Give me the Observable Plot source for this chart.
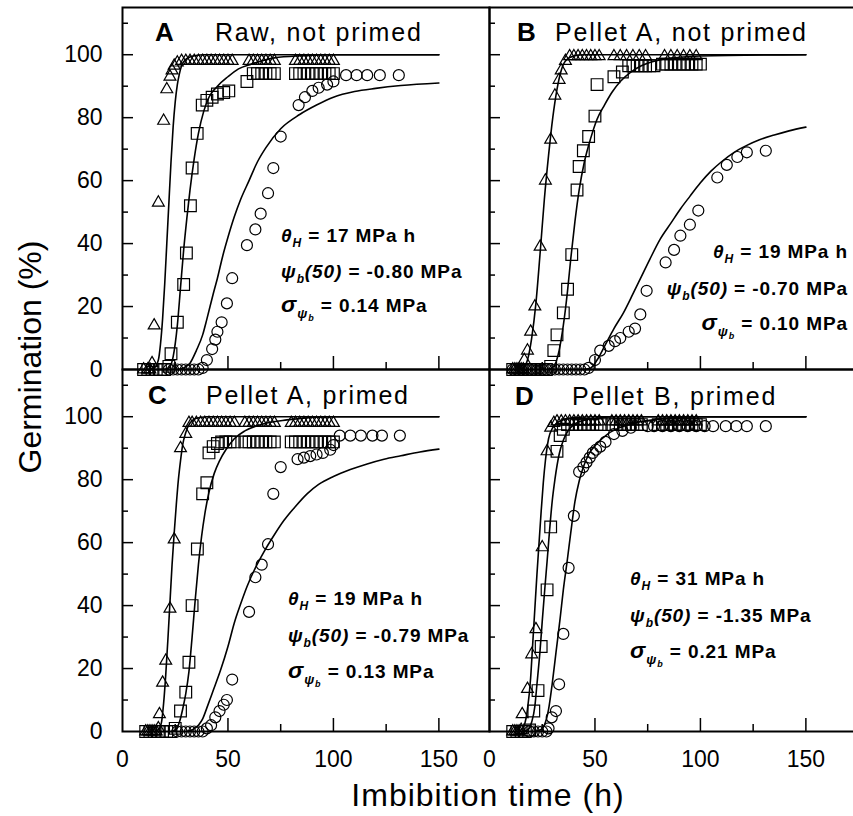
<!DOCTYPE html>
<html><head><meta charset="utf-8">
<script src="https://cdn.jsdelivr.net/npm/d3@7"></script>
<script src="https://cdn.jsdelivr.net/npm/@observablehq/plot@0.6"></script>
<style>
html,body{margin:0;padding:0;background:#fff;}
#fig{position:relative;width:853px;height:816px;overflow:hidden;background:#fff;}
#fig svg{position:absolute;overflow:visible;background:transparent;}
</style></head><body><div id="fig"></div>
<script>
// ---------- data ----------
const panelKeys = ["A", "B", "C", "D"];
const panelTitles = ["Raw, not primed", "Pellet A, not primed", "Pellet A, primed", "Pellet B, primed"];
const thetaH = ["17", "19", "19", "31"];
const psiB50 = ["-0.80", "-0.70", "-0.79", "-1.35"];
const sigmaPsiB = ["0.14", "0.10", "0.13", "0.21"];
const yTickLabels = [0, 20, 40, 60, 80, 100];
const yMinorTicks = [10, 30, 50, 70, 90, 110];
const xTickLabels = [0, 50, 100, 150];
const xMinorTicks = [25, 75, 125];
const xAxisTitle = "Imbibition time (h)";
const yAxisTitle = "Germination (%)";

// Panel A
const triA = [[10,0],[12,0],[13,0],[14,2],[15,14],[17,53],[19.5,79],[21,89],[22.5,93],[23.5,95],[24.5,96.5],[26,97.5],[28,98],[30,98],[32,98],[34,98],[36,98],[38,98],[40,98],[42,98],[44,98],[46,98],[48,98],[50,98],[52,98],[60,98],[62,98],[64,98],[66,98],[68,98],[70,98],[72,98],[82,98],[84,98],[86,98],[88,98],[90,98],[92,98],[94,98],[96,98],[98,98],[100,98]];
const sqA = [[10,0],[12,0],[14,0],[16,0],[18,0],[20,0],[22,1],[23,5],[26,15],[29,27],[30.3,37],[32.2,52],[33,64],[35.4,75],[37.8,84],[40,85.5],[42.5,86.5],[45,87.5],[48,88],[50.4,88.5],[59,91.5],[62,94],[64,94],[66,94],[68,94],[70,94],[72,94],[82,94],[84,94],[86,94],[88,94],[90,94],[92,94],[94,94],[96,94],[98,94],[100,94]];
const cirA = [[22,0],[24,0],[26,0],[28,0],[30,0],[32,0],[34,0],[36,0],[38,0.5],[40,3],[42.5,6.5],[44,9.5],[45,12],[47,15],[49.5,21],[52,29],[59,39.5],[63,44.5],[65.5,49.5],[69,56],[71.5,64],[75,74],[83.5,84],[86.5,86.5],[90,88.5],[93,89.5],[97,90.5],[100,91.5],[106,93.5],[111,93.5],[116,93.5],[122,93.5],[131,93.5]];
const triCurveA = [[12,0],[15,0.5],[17,3],[18,8],[19,16],[20,27],[21,40],[22,53],[23,66],[24,77],[25,85],[26,90.5],[27,94],[28,96.5],[30,98.5],[33,99.5],[38,100],[150,100]];
const sqCurveA = [[20,0],[22,0.5],[24,4],[26,14],[27.5,26],[29,38],[30.5,48],[32,57],[34,67],[36,75],[38.5,82],[41,86.5],[45,90],[50,93],[55,95.5],[61,97],[72,99],[85,99.7],[100,100],[150,100]];
const cirCurveA = [[26,0],[29,0.5],[32,2],[35,6],[38,11],[40,16],[43,24],[45,29],[47.5,36],[50,42],[53,48.5],[56,54],[60,60],[64,66],[68,70.5],[75,76.5],[84,81],[92,84],[100,86.5],[110,88.3],[120,89.3],[132,90.2],[150,91]];

// Panel B
const triB = [[11,0],[12,0],[13,0],[14,0],[15,0],[16,0],[16.5,3],[18,6],[19.5,12],[21.5,20],[24,39],[26.5,60],[29,73],[31,87],[33,92],[34,95],[36,98],[38,99.5],[40,99.5],[42,99.5],[44,99.5],[46,99.5],[48,99.5],[50,99.5],[52,99.5],[59,99.5],[62,99.5],[65,99.5],[68,99.5],[71,99.5],[74,99.5],[83,99.5],[86,99.5],[89,99.5],[92,99.5],[95,99.5],[98,99.5]];
const sqB = [[11,0],[13,0],[15,0],[17,0],[19,0],[21,0],[23,0],[25,0],[27,0],[29,1],[30.5,6],[32,11],[35,18],[37,25.5],[39,36.5],[41.5,57],[42.5,64.5],[44.5,69.5],[47,74],[50,80.5],[51,90.5],[59,93],[63,94.5],[66,96.5],[68,96.5],[70,96.5],[72,96.5],[74,96.5],[76,96.5],[78,96.5],[82,97],[84,97],[86,97],[88,97],[90,97],[92,97],[94,97],[96,97],[98,97],[100,97]];
const cirB = [[11,0],[13,0],[15,0],[17,0],[19,0],[21,0],[23,0],[25,0],[27,0],[29,0],[31,0],[33,0],[35,0],[37,0],[39,0],[41,0],[43,0],[45,0],[47,0.5],[50,3],[52.5,6],[56.5,7.5],[59.5,9],[62,10],[66,12],[69,13],[71.5,17.5],[74.5,25],[83.5,34],[87.5,38],[90.5,42.5],[95,46],[99,50.5],[108,61],[112.5,65],[117.5,67.5],[122,69],[131,69.5]];
const triCurveB = [[14,0],[16,0.5],[18,3],[20,10],[22,21],[24,37],[26,54],[28,68],[30,80],[32,89],[34,95],[36,98],[40,99.6],[45,100],[150,100]];
const sqCurveB = [[28,0],[30.5,1],[33,6],[35,14],[37,25],[38.5,35],[40.5,47],[42.5,57],[45,66],[48,73.5],[51,79.5],[54.5,84],[58,88],[62,91.5],[67,94.5],[72,96.5],[82,98.5],[100,99.6],[150,100]];
const cirCurveB = [[45,0],[48,0.5],[51,3],[55,8],[59,13],[63.5,18],[68,24],[72,29.5],[76,35],[81,41.5],[86,46.5],[90.5,51],[95,55],[100,59.3],[105,63],[110,66],[116,69],[122,71.2],[128,73],[135,74.5],[142,75.8],[150,77]];

// Panel C
const triC = [[11,0],[12,0],[13,0],[14,0],[15,0],[16,0],[17,1],[17.5,5.5],[19,15.5],[20.5,22.5],[22.5,39],[24.5,61],[27.5,90],[30,94.5],[31.5,98],[33,98],[35,98],[37,98],[39,98],[41,98],[43,98],[45,98],[47,98],[49,98],[51,98],[53,98],[58,98],[60,98],[62,98],[64,98],[66,98],[68,98],[70,98],[72,98],[80,98],[82,98],[84,98],[86,98],[88,98],[90,98],[92,98],[94,98],[96,98],[98,98],[100,98]];
const sqC = [[11,0],[13,0],[15,0],[17,0],[19,0],[21,0],[23,0],[25,1],[27.5,6.5],[30,12.5],[31.5,22],[33,40],[35.5,58],[38,75.5],[40,79],[41,88.5],[43,90.5],[45,91.5],[47,92],[49,92],[51,92],[53,92],[58,92],[60,92],[62,92],[64,92],[66,92],[68,92],[70,92],[72,92],[80,92],[82,92],[84,92],[86,92],[88,92],[90,92],[92,92],[94,92],[96,92],[98,92],[100,92]];
const cirC = [[26,0],[28,0],[30,0],[32,0],[34,0],[36,0],[38,0],[40,1],[42,2],[44,4.5],[46,6.5],[48,8.5],[49.5,10],[52,16.5],[60,38],[63,49],[66,53],[69,59.5],[71.5,75.5],[75,84],[83,86.5],[86,87],[89,87.5],[92,88],[95,88.5],[98.5,89.5],[100,91],[103,94],[108,94],[113,94],[118.5,94],[123,94],[131.5,94]];
const triCurveC = [[15,0],[17,0.5],[18.5,3],[19.5,9],[20.5,18],[21.5,29],[22.5,41],[23.5,53],[24.5,63],[25.5,72],[26.5,80],[27.5,86],[28.5,91],[30,95],[32,98],[35,99.5],[40,100],[150,100]];
const sqCurveC = [[23,0],[25,0.5],[27,3],[28.5,7],[30,12],[31.5,19],[33,30],[34.5,42],[36,53],[37.5,62],[39,69],[41,76],[43.5,82],[46,86],[49,89.5],[53,93],[58,95.5],[65,97.4],[78,99],[100,100],[150,100]];
const cirCurveC = [[30,0],[33,0.5],[36,2],[38,4],[40,7.5],[43,13],[46.5,19.5],[50,27],[53,34.5],[56,40.5],[59,46],[63,52],[67,57],[72,62.5],[76.5,67],[82,71.5],[87.5,75.5],[93,78.5],[100,81],[108,83.2],[116,85],[124,86.5],[132,87.6],[141,88.8],[150,89.7]];

// Panel D
const triD = [[11,0],[12,0],[13,0],[14,0],[15,0.5],[15.5,5.5],[18,13.5],[20,24.5],[22,32.5],[25,58.5],[27.3,89],[29,96.5],[30.5,98],[32,98.5],[34,98.5],[36,98.5],[38,98.5],[40,98.5],[42,98.5],[44,98.5],[46,98.5],[48,98.5],[50,98.5],[52,98.5],[58,98.5],[60,98.5],[62,98.5],[64,98.5],[66,98.5],[68,98.5],[70,98.5],[72,98.5],[80,98.5],[82,98.5],[84,98.5],[86,98.5],[88,98.5],[90,98.5],[92,98.5],[94,98.5],[96,98.5],[98,98.5]];
const sqD = [[11,0],[13,0],[15,0],[17,0],[19,0.5],[21,6.5],[23,13],[24.5,27],[27.3,45],[29,65],[32,89],[33.5,94],[35,96],[37,97.5],[39,97.5],[41,97.5],[43,97.5],[45,97.5],[47,97.5],[49,97.5],[51,97.5],[53,97.5],[58,97.5],[60,97.5],[62,97.5],[64,97.5],[66,97.5],[68,97.5],[70,97.5],[72,97.5],[80,97.5],[82,97.5],[84,97.5],[86,97.5],[88,97.5],[90,97.5],[92,97.5],[94,97.5],[96,97.5],[98,97.5],[100,97.5]];
const cirD = [[19,0],[21,0],[23,0],[25,0],[27,0],[28,1],[29.5,4.5],[31.5,6.5],[33,15],[35,31],[37.5,52],[40,68.5],[42.5,82.5],[44.5,84],[46,85.5],[47.5,87],[49,88.5],[50.5,89.5],[52.5,90.5],[55,92],[59,94.5],[63,95.5],[67,96.5],[75,97],[78,97],[82,97],[86,97],[90,97],[94,97],[98,97],[102,97],[106,97],[112,97],[117,97],[122,97],[131,97]];
const triCurveD = [[13,0],[15,0.5],[16.5,2],[18,7],[19.5,17],[20.5,28],[21.5,39],[22.5,50],[23.5,60],[24.5,70],[25.5,79],[26.5,86],[28,93],[30,96.5],[32,98],[35,99],[40,99.7],[50,100],[150,100]];
const sqCurveD = [[16,0],[18,0.5],[20,3],[21.5,8],[22.5,15],[24,26],[25,35],[26.3,46],[27.3,54],[28.5,64],[29.7,73],[31,80],[33,88],[35,92.5],[37,95.3],[40,97.5],[43,98.5],[50,99.5],[60,100],[150,100]];
const cirCurveD = [[21,0],[24,0.5],[26,2],[28,7],[29.7,15],[31.5,25],[33.5,36],[35,45],[36.8,54],[38.5,63],[40.5,73],[42.5,79.5],[44.5,84],[47,88],[51,91.5],[56,94.5],[62,96.6],[70,98.2],[80,99.2],[90,99.8],[100,100],[150,100]];

// ---------- layout & style ----------
const FONT = '"Liberation Sans", Arial, Helvetica, sans-serif';
const X_DOMAIN = [0, 174];
const Y_DOMAIN = [0, 115];
const PANEL_W = 367, PANEL_H = 362;

const panels = [
  {tri: triA, sq: sqA, cir: cirA, curves: [triCurveA, sqCurveA, cirCurveA]},
  {tri: triB, sq: sqB, cir: cirB, curves: [triCurveB, sqCurveB, cirCurveB]},
  {tri: triC, sq: sqC, cir: cirC, curves: [triCurveC, sqCurveC, cirCurveC]},
  {tri: triD, sq: sqD, cir: cirD, curves: [triCurveD, sqCurveD, cirCurveD]}
];

const layout = [
  {left: 0,   top: 0,   ml: 122, mt: 7, mb: 0,  yLab: true,  xLab: false, letter: [15.6, 104.1], title: [44.1, 104.1], note: {x: 75.4, ys: [40.3, 28.9, 18.1], anchor: "start"}},
  {left: 489, top: 0,   ml: 0,   mt: 7, mb: 0,  yLab: false, xLab: false, letter: [13.3, 104.1], title: [31.3, 104.1], note: {x: 170.2, ys: [35.3, 23.5, 12.4], anchor: "end"}},
  {left: 0,   top: 369, ml: 122, mt: 0, mb: 50, yLab: true,  xLab: true,  letter: [12.3, 103.9], title: [39.8, 103.9], note: {x: 78.7, ys: [40.0, 28.3, 16.8], anchor: "start"}},
  {left: 489, top: 369, ml: 0,   mt: 0, mb: 50, yLab: false, xLab: true,  letter: [12.3, 103.6], title: [39.3, 103.6], note: {x: 66.9, ys: [46.4, 34.6, 23.2], anchor: "start"}}
];

function textMark(i) {
  const L = layout[i];
  return (index, scales) => {
    const {x, y} = scales;
    const g = d3.create("svg:g").attr("font-family", FONT).attr("fill", "black").attr("text-anchor", "start");
    g.append("text").attr("x", x(L.letter[0])).attr("y", y(L.letter[1])).attr("text-anchor", "start")
      .attr("font-size", 26).attr("font-weight", "bold").text(panelKeys[i]);
    g.append("text").attr("x", x(L.title[0])).attr("y", y(L.title[1])).attr("text-anchor", "start")
      .attr("font-size", 25).attr("letter-spacing", 1.8).text(panelTitles[i]);
    const lines = [
      [{t: "θ", it: 1}, {t: "H", s: 12, dy: 5, it: 1}, {t: " = " + thetaH[i] + " MPa h", dy: -5}],
      [{t: "ψ", it: 1}, {t: "b", s: 12, dy: 5, it: 1}, {t: "(50)", it: 1, dy: -5}, {t: " = " + psiB50[i] + " MPa"}],
      [{t: "σ", it: 1, s: 23}, {t: "ψ", s: 13, dy: 6, it: 1}, {t: "b", s: 9, dy: 3, it: 1}, {t: " = " + sigmaPsiB[i] + " MPa", dy: -9}]
    ];
    lines.forEach((parts, k) => {
      const t = g.append("text").attr("x", x(L.note.x)).attr("y", y(L.note.ys[k]))
        .attr("text-anchor", L.note.anchor).attr("font-size", 19).attr("font-weight", "bold")
        .attr("letter-spacing", 0.9);
      parts.forEach(p => {
        const s = t.append("tspan").text(p.t);
        if (p.s) s.attr("font-size", p.s);
        if (p.dy) s.attr("dy", p.dy);
        if (p.it) s.attr("font-style", "italic");
      });
    });
    return g.node();
  };
}

const fig = document.getElementById("fig");

panels.forEach((P, i) => {
  const L = layout[i];
  const width = L.ml + PANEL_W;
  const height = L.mt + PANEL_H + L.mb;
  const xy = {x: d => d[0], y: d => d[1]};
  const marks = [
    ...P.curves.map(c => Plot.line(c, {...xy, curve: "monotone-x", stroke: "black", strokeWidth: 1.6})),
    Plot.dot(P.cir, {...xy, symbol: "circle", r: 5.5, stroke: "black", fill: "none", strokeWidth: 1.2}),
    Plot.dot(P.sq, {...xy, symbol: "square", r: 6.6, stroke: "black", fill: "none", strokeWidth: 1.2}),
    Plot.dot(P.tri, {...xy, symbol: "triangle", r: 4.4, stroke: "black", fill: "none", strokeWidth: 1.2}),
    Plot.tickX(xTickLabels.filter(v => v > 0), {x: d => d, insetTop: PANEL_H - 13, stroke: "black", strokeWidth: 1.5}),
    Plot.tickX(xMinorTicks, {x: d => d, insetTop: PANEL_H - 7, stroke: "black", strokeWidth: 1.5}),
    Plot.tickY(yTickLabels.filter(v => v > 0), {y: d => d, insetRight: PANEL_W - 11, stroke: "black", strokeWidth: 1.5}),
    Plot.tickY(yMinorTicks, {y: d => d, insetRight: PANEL_W - 6, stroke: "black", strokeWidth: 1.5}),
    Plot.frame({stroke: "black", strokeWidth: 2}),
    textMark(i)
  ];
  if (L.yLab) marks.push(Plot.axisY({ticks: yTickLabels, tickSize: 0, tickPadding: 20, fontSize: 23, label: null}));
  if (L.xLab) marks.push(Plot.axisX({ticks: xTickLabels, tickSize: 0, tickPadding: 19, fontSize: 23, label: null}));
  const chart = Plot.plot({
    width, height,
    marginLeft: L.ml, marginRight: 0, marginTop: L.mt, marginBottom: L.mb,
    x: L.xLab ? {domain: X_DOMAIN} : {domain: X_DOMAIN, axis: null},
    y: L.yLab ? {domain: Y_DOMAIN} : {domain: Y_DOMAIN, axis: null},
    style: {fontFamily: FONT, fontSize: "23px", color: "black", background: "transparent", overflow: "visible"},
    marks
  });
  chart.style.left = L.left + "px";
  chart.style.top = L.top + "px";
  chart.style.maxWidth = "none";
  fig.appendChild(chart);
});

// axis titles
const overlay = d3.create("svg").attr("width", 853).attr("height", 816)
  .style("left", "0px").style("top", "0px").style("pointer-events", "none")
  .attr("font-family", FONT).attr("fill", "black");
overlay.append("text").attr("transform", "translate(41,357) rotate(-90)")
  .attr("text-anchor", "middle").attr("font-size", 32).text(yAxisTitle);
overlay.append("text").attr("x", 488).attr("y", 806)
  .attr("text-anchor", "middle").attr("font-size", 32).attr("letter-spacing", 1).text(xAxisTitle);
fig.appendChild(overlay.node());
</script></body></html>
